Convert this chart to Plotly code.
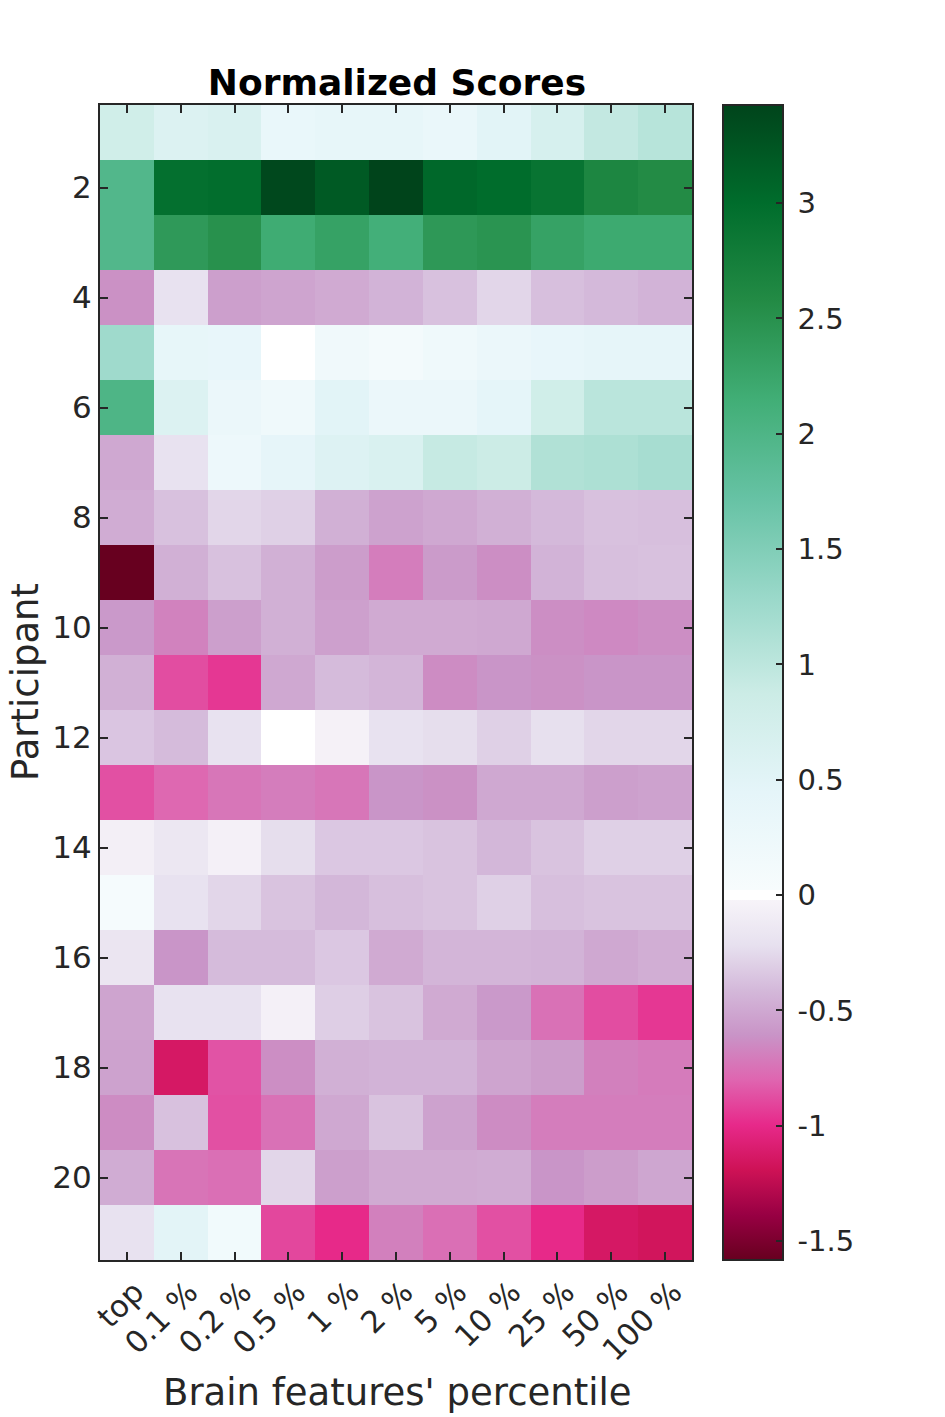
import plotly.graph_objects as go

# ---------------- data ----------------
percentile_labels = ["top", "0.1 %", "0.2 %", "0.5 %", "1 %", "2 %", "5 %", "10 %", "25 %", "50 %", "100 %"]
participants = list(range(1, 22))
y_tick_vals = [2, 4, 6, 8, 10, 12, 14, 16, 18, 20]

row_01 = [0.80, 0.60, 0.65, 0.35, 0.40, 0.40, 0.33, 0.50, 0.70, 0.95, 1.05]
row_02 = [1.95, 2.95, 2.98, 3.38, 3.20, 3.425, 3.05, 3.00, 2.90, 2.65, 2.57]
row_03 = [1.95, 2.40, 2.50, 2.17, 2.30, 2.12, 2.42, 2.47, 2.30, 2.20, 2.20]
row_04 = [-0.62, -0.20, -0.55, -0.52, -0.49, -0.44, -0.37, -0.27, -0.38, -0.41, -0.44]
row_05 = [1.25, 0.40, 0.37, 0.00, 0.18, 0.12, 0.22, 0.30, 0.38, 0.43, 0.43]
row_06 = [2.00, 0.60, 0.30, 0.20, 0.50, 0.30, 0.30, 0.45, 0.80, 1.02, 1.02]
row_07 = [-0.50, -0.20, 0.25, 0.42, 0.58, 0.65, 0.92, 0.87, 1.10, 1.13, 1.18]
row_08 = [-0.48, -0.37, -0.27, -0.30, -0.46, -0.53, -0.50, -0.46, -0.41, -0.37, -0.38]
row_09 = [-1.582, -0.46, -0.37, -0.46, -0.56, -0.70, -0.57, -0.63, -0.44, -0.38, -0.37]
row_10 = [-0.58, -0.68, -0.55, -0.46, -0.54, -0.49, -0.49, -0.50, -0.63, -0.65, -0.63]
row_11 = [-0.46, -0.88, -0.95, -0.50, -0.40, -0.43, -0.64, -0.60, -0.62, -0.60, -0.60]
row_12 = [-0.35, -0.40, -0.20, 0.00, -0.05, -0.20, -0.23, -0.30, -0.22, -0.27, -0.27]
row_13 = [-0.87, -0.79, -0.73, -0.70, -0.73, -0.60, -0.62, -0.50, -0.50, -0.55, -0.53]
row_14 = [-0.07, -0.15, -0.06, -0.23, -0.34, -0.34, -0.36, -0.42, -0.36, -0.30, -0.30]
row_15 = [0.07, -0.20, -0.27, -0.36, -0.42, -0.38, -0.36, -0.30, -0.38, -0.36, -0.36]
row_16 = [-0.17, -0.60, -0.40, -0.40, -0.34, -0.49, -0.43, -0.43, -0.44, -0.50, -0.47]
row_17 = [-0.52, -0.20, -0.20, -0.06, -0.31, -0.36, -0.49, -0.58, -0.75, -0.88, -0.95]
row_18 = [-0.53, -1.14, -0.86, -0.63, -0.46, -0.44, -0.44, -0.52, -0.56, -0.69, -0.71]
row_19 = [-0.64, -0.37, -0.87, -0.75, -0.50, -0.36, -0.53, -0.64, -0.70, -0.70, -0.70]
row_20 = [-0.48, -0.74, -0.76, -0.27, -0.55, -0.49, -0.49, -0.48, -0.60, -0.56, -0.51]
row_21 = [-0.20, 0.48, 0.17, -0.90, -1.00, -0.69, -0.76, -0.87, -1.00, -1.14, -1.17]

scores = [row_01, row_02, row_03, row_04, row_05, row_06, row_07, row_08, row_09, row_10,
          row_11, row_12, row_13, row_14, row_15, row_16, row_17, row_18, row_19, row_20, row_21]

cbar_tick_vals = [-1.5, -1, -0.5, 0, 0.5, 1, 1.5, 2, 2.5, 3]
cbar_tick_text = ["-1.5", "-1", "-0.5", "0", "0.5", "1", "1.5", "2", "2.5", "3"]

# ---------------- colour scale (PuRd reversed below 0, BuGn above 0) ----------------
z_min = min(min(r) for r in scores)
z_max = max(max(r) for r in scores)
f0 = -z_min / (z_max - z_min)

purd = ['rgb(247,244,249)', 'rgb(231,225,239)', 'rgb(212,185,218)', 'rgb(201,148,199)',
        'rgb(223,101,176)', 'rgb(231,41,138)', 'rgb(206,18,86)', 'rgb(152,0,67)', 'rgb(103,0,31)']
bugn = ['rgb(247,252,253)', 'rgb(229,245,249)', 'rgb(204,236,230)', 'rgb(153,216,201)',
        'rgb(102,194,164)', 'rgb(65,174,118)', 'rgb(35,139,69)', 'rgb(0,109,44)', 'rgb(0,68,27)']
gap = 0.004
colorscale = []
neg = purd[::-1]
for i, c in enumerate(neg):
    colorscale.append([(f0 - gap) * i / (len(neg) - 1), c])
colorscale.append([f0 - gap, 'rgb(255,255,255)'])
colorscale.append([f0 + gap, 'rgb(255,255,255)'])
for i, c in enumerate(bugn):
    colorscale.append([(f0 + gap) + (1 - f0 - gap) * i / (len(bugn) - 1), c])

# ---------------- figure ----------------
W, H = 945, 1417
L, R, T, B = 100, 253, 105, 157
plot_w = W - L - R
plot_h = H - T - B
axis_col = '#262626'
font_family = 'DejaVu Sans'
sp = '\u2005'

fig = go.Figure(go.Heatmap(
    z=scores,
    x=list(range(len(percentile_labels))),
    y=participants,
    colorscale=colorscale,
    zmin=z_min, zmax=z_max,
    colorbar=dict(
        x=(723 - L) / plot_w, xanchor='left', xref='paper',
        y=0.5, yanchor='middle', len=1.0, lenmode='fraction',
        thickness=60, thicknessmode='pixels',
        outlinewidth=2, outlinecolor=axis_col,
        ticks='inside', ticklen=8, tickwidth=2, tickcolor=axis_col,
        tickvals=cbar_tick_vals, ticktext=[sp + t for t in cbar_tick_text],
        tickfont=dict(family=font_family, size=29, color=axis_col),
        ypad=0, xpad=0,
    ),
    hoverinfo='skip',
))

fig.update_layout(
    width=W, height=H,
    margin=dict(l=L, r=R, t=T, b=B),
    paper_bgcolor='white', plot_bgcolor='white',
    font=dict(family=font_family, color=axis_col),
    title=dict(text='<b>Normalized Scores</b>', x=397 / W, xanchor='center',
               y=1 - 82 / H, yanchor='middle', yref='container',
               font=dict(family=font_family, size=36, color='black')),
)

fig.update_xaxes(
    range=[-0.5, len(percentile_labels) - 0.5],
    tickmode='array', tickvals=list(range(len(percentile_labels))), ticktext=percentile_labels,
    tickangle=-45, tickfont=dict(family=font_family, size=30.5, color=axis_col),
    ticklabelshift=8,
    ticks='inside', ticklen=8, tickwidth=2, tickcolor=axis_col,
    showline=True, linewidth=2, linecolor=axis_col, mirror='ticks',
    showgrid=False, zeroline=False,
)
fig.update_yaxes(
    range=[len(participants) + 0.5, 0.5],
    tickmode='array', tickvals=y_tick_vals, ticktext=[str(v) for v in y_tick_vals],
    tickfont=dict(family=font_family, size=31, color=axis_col),
    ticks='inside', ticklen=8, tickwidth=2, tickcolor=axis_col,
    showline=True, linewidth=2, linecolor=axis_col, mirror='ticks',
    showgrid=False, zeroline=False,
)

fig.add_annotation(text='Participant', xref='paper', yref='paper',
                   x=(25 - L) / plot_w, y=(H - B - 682) / plot_h, textangle=-90, showarrow=False,
                   xanchor='center', yanchor='middle',
                   font=dict(family=font_family, size=37, color=axis_col))
fig.add_annotation(text="Brain features' percentile", xref='paper', yref='paper',
                   x=(397 - L) / plot_w, y=(H - B - 1392) / plot_h, showarrow=False,
                   xanchor='center', yanchor='middle',
                   font=dict(family=font_family, size=37, color=axis_col))

fig.write_html('out.html')
